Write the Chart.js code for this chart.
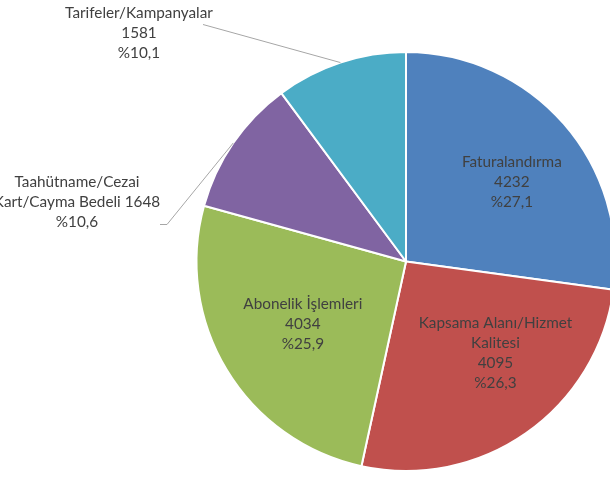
<!DOCTYPE html>
<html>
<head>
<meta charset="utf-8">
<script src="https://cdn.jsdelivr.net/npm/chart.js@4"></script>
<style>
html,body{margin:0;padding:0;background:#fff;overflow:hidden;width:610px;height:477px;}
#wrap{position:absolute;left:0;top:0;width:620px;height:477px;}
</style>
</head>
<body>
<div id="wrap"><canvas id="c" width="620" height="477"></canvas></div>
<script>
const categories = ["Faturalandırma", "Kapsama Alanı/Hizmet Kalitesi", "Abonelik İşlemleri", "Taahütname/Cezai Kart/Cayma Bedeli", "Tarifeler/Kampanyalar"];
const values = [4232, 4095, 4034, 1648, 1581];
const colors = ["#4F81BD", "#C0504D", "#9BBB59", "#8064A2", "#4BACC6"];
const labelLines = [
  ["Faturalandırma"],
  ["Kapsama Alanı/Hizmet", "Kalitesi"],
  ["Abonelik İşlemleri"],
  ["Taahütname/Cezai", "Kart/Cayma Bedeli {v}"],
  ["Tarifeler/Kampanyalar", "{v}"]
];
// label placement (styling): inside labels use radius factor + offset; outside labels offset from centre with leader
const placement = [
  {mode:"in", f:0.62, dx:8, dy:6},
  {mode:"in", f:0.62, dx:15, dy:-15},
  {mode:"in", f:0.62, dx:8, dy:-5},
  {mode:"out", tx:-329, ty:-59, leader:[[-246,-37],[-239,-37]]},
  {mode:"out", tx:-267, ty:-228, leader:[[-203,-237]]}
];

const total = values.reduce((a,b)=>a+b,0);
function pct(v){ return "%" + (v/total*100).toFixed(1).replace(".", ","); }

const labelPlugin = {
  id: "pieLabels",
  afterDraw(chart){
    const ctx = chart.ctx;
    const meta = chart.getDatasetMeta(0);
    ctx.save();
    ctx.font = "15.3px Lato";
    ctx.fillStyle = "#404040";
    ctx.textAlign = "center";
    ctx.textBaseline = "middle";
    const lh = 20;
    meta.data.forEach((arc, i) => {
      const p = arc.getProps(["x","y","startAngle","endAngle","outerRadius"], true);
      const mid = (p.startAngle + p.endAngle)/2;
      const v = values[i];
      let lines = labelLines[i].map(s => s.replace("{v}", v));
      const pl = placement[i];
      let cx, cy;
      if (pl.mode === "in") {
        lines = lines.concat([String(v), pct(v)]);
        const r = p.outerRadius * pl.f;
        cx = p.x + Math.cos(mid)*r + pl.dx;
        cy = p.y + Math.sin(mid)*r + pl.dy;
      } else {
        lines = lines.concat([pct(v)]);
        cx = p.x + pl.tx;
        cy = p.y + pl.ty;
        ctx.strokeStyle = "#A6A6A6";
        ctx.lineWidth = 1;
        ctx.beginPath();
        const pts = pl.leader.map(q => [p.x + q[0], p.y + q[1]]);
        ctx.moveTo(pts[0][0], pts[0][1]);
        for (let k=1;k<pts.length;k++) ctx.lineTo(pts[k][0], pts[k][1]);
        ctx.lineTo(p.x + Math.cos(mid)*p.outerRadius, p.y + Math.sin(mid)*p.outerRadius);
        ctx.stroke();
      }
      const y0 = cy - (lines.length-1)*lh/2;
      lines.forEach((t, k) => ctx.fillText(t, cx, y0 + k*lh));
    });
    ctx.restore();
  }
};

new Chart(document.getElementById("c"), {
  type: "pie",
  data: {
    labels: categories,
    datasets: [{
      data: values,
      backgroundColor: colors,
      borderColor: "#FFFFFF",
      borderWidth: 2,
      hoverOffset: 0
    }]
  },
  options: {
    responsive: false,
    animation: false,
    radius: 209.5,
    layout: { padding: { left: 196, right: 4, top: 51.5, bottom: 5.5 } },
    plugins: { legend: { display: false }, tooltip: { enabled: false } }
  },
  plugins: [labelPlugin]
});
</script>
</body>
</html>
